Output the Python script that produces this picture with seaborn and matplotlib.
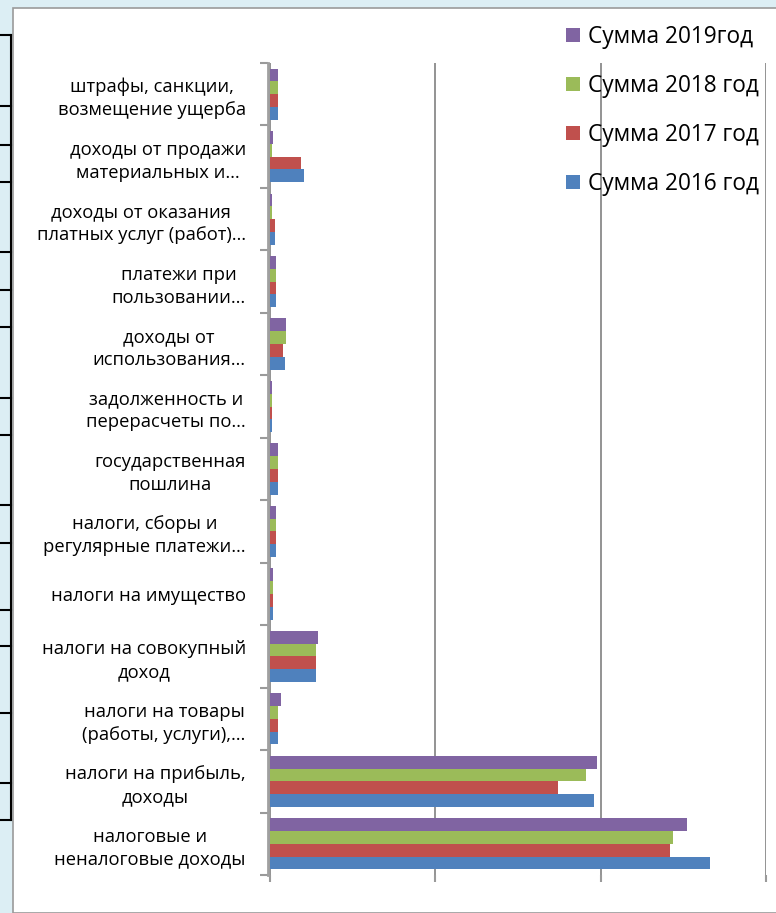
import matplotlib
matplotlib.use("Agg")
import matplotlib.pyplot as plt
import seaborn as sns
import pandas as pd
from matplotlib.patches import Rectangle, Patch
from matplotlib.lines import Line2D

# Categories, top to bottom
categories = [
    "штрафы, санкции,\nвозмещение ущерба",
    "доходы от продажи\nматериальных и…",
    "доходы от оказания\nплатных услуг (работ)…",
    "платежи при\nпользовании…",
    "доходы от\nиспользования…",
    "задолженность и\nперерасчеты по…",
    "государственная\nпошлина",
    "налоги, сборы и\nрегулярные платежи…",
    "налоги на имущество",
    "налоги на совокупный\nдоход",
    "налоги на товары\n(работы, услуги),…",
    "налоги на прибыль,\nдоходы",
    "налоговые и\nненалоговые доходы",
]

# Values (one gridline = 100)
sum_2019 = [5, 2, 1.5, 4, 10, 1.5, 5, 4, 2, 29, 7, 198, 252]
sum_2018 = [5, 1.5, 1.5, 4, 10, 1.5, 5, 4, 2, 28, 5, 191, 244]
sum_2017 = [5, 19, 3, 4, 8, 1.5, 5, 4, 2, 28, 5, 174, 242]
sum_2016 = [5, 21, 3, 4, 9, 1.5, 5, 4, 2, 28, 5, 196, 266]

series = ["Сумма 2019год", "Сумма 2018 год", "Сумма 2017 год", "Сумма 2016 год"]
colors = ["#8064A2", "#9BBB59", "#C0504D", "#4F81BD"]

rows = []
for name, vals in zip(series, [sum_2019, sum_2018, sum_2017, sum_2016]):
    for cat, v in zip(categories, vals):
        rows.append({"category": cat, "series": name, "value": v})
df = pd.DataFrame(rows)

plt.rcParams["font.family"] = ["Open Sans", "DejaVu Sans"]

fig = plt.figure(figsize=(7.76, 9.13), dpi=100)
fig.patch.set_facecolor("#DCEEF4")

# white chart area
fig.add_artist(Rectangle((13 / 776, 0), 1, 1 - 8 / 913, transform=fig.transFigure,
                         facecolor="white", edgecolor="#9A9A9A", linewidth=1.2, zorder=0))

# table fragment on the left edge
for y in [35, 106, 145, 182, 252, 290, 327, 398, 435, 505, 543, 610, 646, 713, 783, 820]:
    fig.add_artist(Line2D([0, 11 / 776], [1 - y / 913, 1 - y / 913],
                          transform=fig.transFigure, color="black", linewidth=1.5))
fig.add_artist(Line2D([11 / 776, 11 / 776], [1 - 35 / 913, 1 - 820 / 913],
                      transform=fig.transFigure, color="black", linewidth=1.5))

ax = fig.add_axes([268 / 776, 1 - 875 / 913, (766 - 268) / 776, (875 - 63) / 913])
ax.set_facecolor("none")

sns.barplot(data=df, y="category", x="value", hue="series", hue_order=series,
            palette=colors, orient="h", width=0.82, ax=ax, legend=False,
            saturation=1, edgecolor="none", zorder=3)

ax.set_xlim(-1, 300)
ax.set_xticks([0, 100, 200, 300])
ax.set_xticklabels([])
ax.set_xlabel("")
ax.set_ylabel("")
ax.grid(axis="x", color="#8A8A8A", linewidth=1.3)
ax.set_axisbelow(True)
for s in ["top", "right", "bottom"]:
    ax.spines[s].set_visible(False)
ax.spines["left"].set_color("#A0A0A0")
ax.spines["left"].set_linewidth(2)
ax.spines["left"].set_zorder(1)

ax.set_yticks([i + 0.5 for i in range(-1, len(categories))], minor=True)
ax.tick_params(axis="y", which="major", length=0, pad=16, labelsize=13.2)
ax.tick_params(axis="y", which="minor", length=6, color="#9A9A9A", width=1.5)
ax.tick_params(axis="x", length=5, color="#9A9A9A", width=1.5)
for lbl in ax.get_yticklabels():
    lbl.set_multialignment("center")
    lbl.set_linespacing(1.35)

handles = [Patch(facecolor=c, edgecolor="none") for c in colors]
fig.legend(handles, series, loc="upper left", bbox_to_anchor=(557 / 776, 1 - 16 / 913),
           frameon=False, fontsize=16.3, handlelength=0.6, handleheight=0.6,
           handletextpad=0.35, labelspacing=1.1, borderaxespad=0)

fig.savefig("out.png", dpi=100, facecolor=fig.get_facecolor())
